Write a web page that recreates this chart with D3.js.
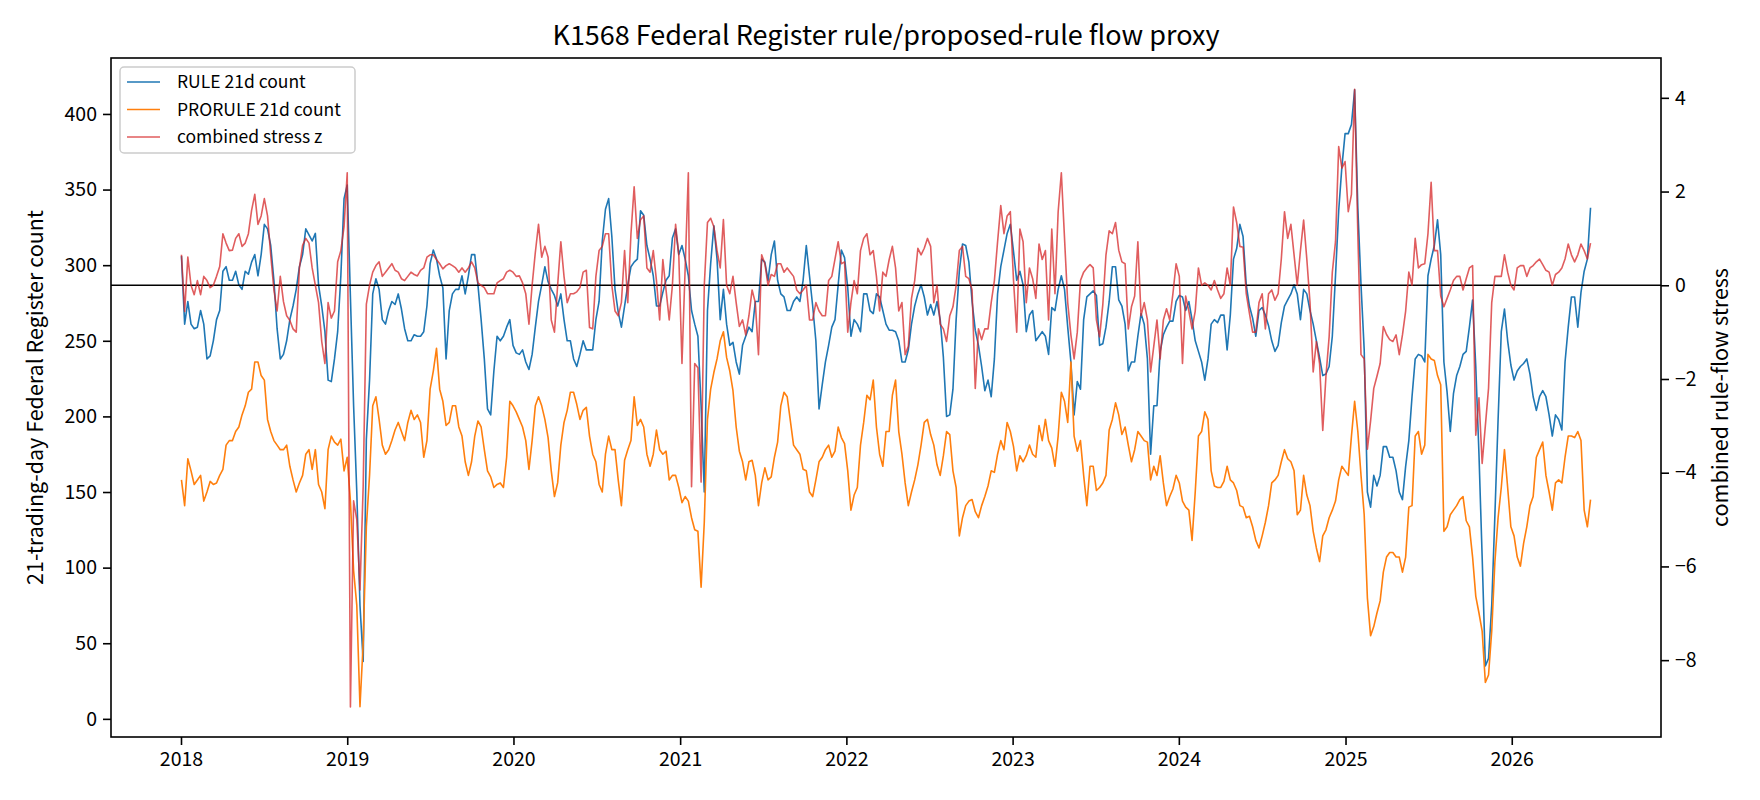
<!DOCTYPE html>
<html><head><meta charset="utf-8">
<script src="https://cdn.jsdelivr.net/npm/d3@7"></script>
<style>
body{margin:0;background:#fff}
text{font-family:"Noto Sans CJK SC","Noto Sans",sans-serif;fill:#000}
</style>
</head><body>
<svg id="chart" width="1760" height="800"></svg>
<script>
// ---- data (weekly samples) ----
const startDate = "2018-01-02";
const stepDays = 7;
const ruleCount = [
306,261,276,261,258,259,270,261,238,240,250,264,270,296,299,290,290,296,287,284,
296,294,302,307,293,307,327,324,313,290,258,238,241,250,264,273,284,299,307,324,
320,316,321,287,273,256,224,223,238,256,293,344,353,279,207,150,75,38,185,224,
281,291,284,264,261,270,276,274,281,271,258,250,250,254,253,253,256,273,301,310,
304,293,285,238,270,281,284,284,293,281,293,307,307,287,264,238,205,201,230,253,
250,253,259,264,247,242,241,244,236,231,241,259,276,287,299,289,284,280,273,281,
264,250,250,238,233,241,250,244,244,244,264,276,316,337,344,319,284,269,259,273,
287,299,302,304,336,333,313,304,293,273,273,282,290,293,318,324,307,313,304,293,
270,261,253,207,150,270,301,326,304,264,284,261,247,249,236,228,247,253,259,256,
276,276,304,302,290,307,316,290,281,279,270,270,276,279,276,290,313,293,273,250,
205,221,236,247,259,264,287,310,305,285,253,264,261,256,281,281,270,268,281,279,
270,261,257,257,256,250,236,236,244,261,273,281,287,279,267,274,267,276,264,239,
200,201,218,264,296,314,313,302,276,257,247,233,217,224,213,238,281,299,310,321,
327,309,290,296,287,256,267,270,250,253,256,253,241,272,270,284,293,284,259,236,
201,223,218,264,279,281,283,280,247,248,259,276,299,299,277,273,261,230,236,236,
253,268,261,238,175,207,207,243,254,259,263,263,276,280,279,270,276,264,250,243,
236,224,238,261,264,262,267,267,244,267,304,311,327,319,287,273,265,253,270,272,
267,260,250,243,247,262,273,277,281,287,281,264,284,281,270,261,250,239,227,228,
233,253,293,336,365,387,387,393,416,338,287,244,150,140,161,154,161,180,180,173,
173,164,150,145,167,184,213,238,241,240,236,293,304,313,330,307,236,216,190,215,
227,233,241,243,259,277,233,175,107,35,40,75,135,198,256,271,250,234,224,230,
233,235,238,228,213,204,213,217,213,201,187,201,198,191,236,259,279,279,259,282,
296,304,338];
const proruleCount = [
158,141,172,164,155,158,161,144,150,157,155,156,161,165,181,184,184,190,193,201,
207,216,218,236,236,227,224,198,190,184,181,178,178,181,167,158,150,156,161,175,
178,165,178,155,150,139,178,187,183,181,185,164,173,144,98,75,8,50,127,161,
207,213,198,181,175,178,184,191,196,190,184,196,204,198,201,196,173,184,218,230,
245,218,210,194,196,207,207,193,187,170,161,170,187,197,193,178,164,160,153,155,
156,153,173,210,207,203,198,193,184,165,184,207,213,207,198,186,164,147,156,181,
196,204,216,216,208,198,204,206,187,175,170,155,150,175,187,178,178,158,141,171,
178,184,213,194,198,193,175,167,175,191,178,175,177,158,161,161,153,143,147,144,
133,125,124,87,130,198,218,229,238,250,256,239,230,217,193,177,170,158,170,171,
161,141,156,166,158,160,173,183,207,216,213,197,181,178,175,165,164,150,147,158,
170,173,178,181,173,177,193,186,182,164,138,148,153,181,196,214,211,224,193,175,
167,190,190,214,224,190,175,156,141,150,158,168,181,196,198,188,181,168,161,174,
190,188,164,153,121,133,141,144,145,137,133,141,147,154,164,163,175,184,178,196,
190,180,164,174,170,174,181,175,173,194,184,198,184,179,167,187,216,210,196,236,
187,177,184,161,141,167,167,151,153,156,161,191,198,209,201,188,193,181,170,178,
190,187,184,183,158,167,161,174,156,141,147,152,161,156,144,140,138,118,150,187,
190,203,198,164,154,153,153,157,167,158,156,151,141,140,133,134,127,118,113,121,
130,141,156,158,161,170,178,172,170,164,135,138,161,148,141,124,113,104,121,125,
133,138,144,158,167,164,161,187,210,190,161,135,80,55,61,70,78,97,107,110,
110,107,107,97,107,140,141,187,190,175,181,241,238,237,227,221,124,127,135,138,
141,145,147,131,127,107,81,70,58,24,29,58,104,133,153,178,153,127,121,107,
101,116,127,141,147,173,178,183,161,150,138,156,158,156,173,187,187,186,190,184,
138,127,145];
const stressZ = [
0.65,-0.56,0.6,0,-0.2,0.1,-0.2,0.19,0.1,-0.05,0,0.19,0.4,1.1,0.9,0.74,0.75,1.0,1.1,0.83,
0.9,1.1,1.6,1.94,1.3,1.48,1.85,1.48,0.65,-0.1,-0.55,0.19,-0.35,-0.65,-0.75,-0.93,-1.0,0.37,0.85,1.0,
0.9,0.37,0,-0.37,-1.2,-1.67,-0.37,-0.7,-0.55,0.5,0.74,1.25,2.4,-9.0,-4.6,-5.0,-6.5,-4.3,-0.4,0,
0.28,0.42,0.5,0.19,0.28,0.37,0.46,0.32,0.28,0.14,0.1,0.19,0.28,0.23,0.2,0.32,0.37,0.6,0.65,0.65,
0.55,0.46,0.35,0.42,0.46,0.42,0.37,0.28,0.37,0.28,0.37,0.5,0.37,0.05,0,-0.05,-0.18,-0.18,-0.18,0.05,
0.1,0.14,0.28,0.32,0.28,0.19,0.2,0.05,-0.18,-0.83,0,0.7,1.3,0.6,0.83,0.6,-0.74,-1.0,0,0.93,
0.19,-0.37,-0.18,-0.18,-0.14,-0.05,0.28,0.32,-0.9,-0.93,0.19,0.74,0.83,1.1,1.1,0,-0.55,-0.65,-0.37,0.74,
-0.37,1.1,2.1,1.0,1.4,1.48,0.37,0.28,0.74,0.1,-0.74,0.55,-0.1,-0.74,0,1.3,0.65,-1.67,0.37,2.4,
-4.3,-1.67,-1.76,-4.2,0,1.34,1.43,1.25,0.74,0.37,1.4,0,-0.18,0.19,-0.37,-0.88,-0.74,-1.06,-0.65,-0.1,
-0.37,-1.48,0.65,0.46,0,0.23,0.19,0.46,0.46,0.28,0.37,0.28,0.19,-0.1,-0.18,-0.1,0,-0.74,-0.74,-0.37,
-0.55,-0.65,-0.65,0.1,0.19,0.56,0.93,0.46,0.5,-1.0,-0.37,0.1,-0.18,0.74,1.0,1.1,0.65,0.74,0.19,-0.55,
0.28,0.19,0.55,0.83,0.37,-0.55,-0.37,-1.48,-1.3,-0.28,0.1,0.79,0.65,0.79,1.0,0.83,-0.37,0,-0.83,-0.93,
-1.2,-0.65,-0.46,0,0.74,0.83,0.19,0.14,-0.1,-2.2,-0.93,-1.16,-0.93,-0.93,-0.37,0.1,0.93,1.7,1.1,1.48,
1.57,0.1,-1.0,1.2,0.93,-0.37,0.37,0.14,-0.28,0.88,0.55,0.74,-0.74,1.2,-0.18,1.57,2.4,1.0,-0.37,-1.06,
-1.57,-1.0,0.1,0.28,0.37,0.44,0.37,-0.74,-1.1,-0.42,0.65,1.16,1.1,1.34,0.75,0.5,0.46,-0.93,-0.46,-0.23,
0.93,-0.65,-0.37,-0.74,-1.85,-1.3,-0.74,-1.57,-0.74,-0.5,-0.74,-0.18,0.46,0.19,-1.67,-0.23,-0.55,-0.93,-0.55,0.37,
0,0.05,0,-0.1,0.1,-0.1,-0.28,-0.18,0.37,0,1.67,1.34,0.83,0.81,-0.18,-0.6,-1.0,-1.0,-0.37,-0.18,
-0.93,-0.18,-0.1,-0.32,-0.18,0.56,1.57,1.0,1.3,0.65,0,0.74,1.39,0.56,-0.37,-1.85,-1.2,-1.67,-3.1,-1.94,
-1.1,0.28,0.93,2.96,2.5,2.64,1.57,1.94,4.18,1.1,-1.48,-1.57,-3.5,-2.9,-2.2,-1.94,-1.67,-0.88,-1.05,-1.16,
-1.2,-1.06,-1.48,-1.06,-0.55,0.28,0,1.0,0.37,0.44,0.46,1.1,2.2,0.74,0.74,-0.23,-0.46,-0.28,-0.1,0.1,
0.19,0.19,-0.1,0.14,0.37,0.42,-3.2,-2.4,-3.8,-3.0,-2.2,-0.37,0.19,0.19,0.19,0.65,0.28,0,-0.1,0.37,
0.42,0.42,0.19,0.37,0.42,0.5,0.56,0.44,0.32,0.28,0,0.23,0.28,0.37,0.56,0.88,0.65,0.5,0.65,0.88,
0.74,0.56,0.9];
const leftTicks = [0,50,100,150,200,250,300,350,400];
const rightTicks = [-8,-6,-4,-2,0,2,4];
const yearTicks = [2018,2019,2020,2021,2022,2023,2024,2025,2026];
const seriesNames = ["RULE 21d count","PRORULE 21d count","combined stress z"];
const titleText = "K1568 Federal Register rule/proposed-rule flow proxy";
const leftLabel = "21-trading-day Federal Register count";
const rightLabel = "combined rule-flow stress";

// ---- layout ----
const L = 111, R = 1661, T = 58, B = 737;
const colors = ["#1f77b4", "#ff7f0e", "#d62728"];
const FONT = '"Noto Sans CJK SC","Noto Sans",sans-serif';

const svg = d3.select("#chart");
const t0 = d3.utcParse("%Y-%m-%d")(startDate);
const dates = ruleCount.map((_, i) => d3.utcDay.offset(t0, i * stepDays));

const ext = d3.extent(dates);
const pad = (ext[1] - ext[0]) * 0.05;
const x = d3.scaleUtc().domain([new Date(+ext[0] - pad), new Date(+ext[1] + pad)]).range([L, R]);
const yL = d3.scaleLinear().domain([-12, 437]).range([B, T]);
const yR = d3.scaleLinear().domain([-9.64, 4.85]).range([B, T]);

svg.append("clipPath").attr("id", "clip").append("rect")
  .attr("x", L).attr("y", T).attr("width", R - L).attr("height", B - T);
const plot = svg.append("g").attr("clip-path", "url(#clip)");
const lineL = d3.line().x((d, i) => x(dates[i])).y(d => yL(d));
const lineR = d3.line().x((d, i) => x(dates[i])).y(d => yR(d));

plot.append("path").attr("d", lineL(ruleCount)).attr("fill", "none")
  .attr("stroke", colors[0]).attr("stroke-width", 1.6).attr("stroke-linejoin", "round");
plot.append("path").attr("d", lineL(proruleCount)).attr("fill", "none")
  .attr("stroke", colors[1]).attr("stroke-width", 1.6).attr("stroke-linejoin", "round");
plot.append("line").attr("x1", L).attr("x2", R).attr("y1", yR(0)).attr("y2", yR(0))
  .attr("stroke", "#000").attr("stroke-width", 1.3);
plot.append("path").attr("d", lineR(stressZ)).attr("fill", "none")
  .attr("stroke", colors[2]).attr("stroke-opacity", 0.75).attr("stroke-width", 1.6).attr("stroke-linejoin", "round");

// axes
const fs = 19.5;
const axL = svg.append("g").attr("transform", `translate(${L},0)`)
  .call(d3.axisLeft(yL).tickValues(leftTicks).tickSize(8).tickPadding(6).tickFormat(d3.format("d")));
const axR = svg.append("g").attr("transform", `translate(${R},0)`)
  .call(d3.axisRight(yR).tickValues(rightTicks).tickSize(8).tickPadding(6).tickFormat(d3.format("d")));
const axB = svg.append("g").attr("transform", `translate(0,${B})`)
  .call(d3.axisBottom(x).tickValues(yearTicks.map(y => new Date(Date.UTC(y, 0, 1)))).tickSize(8).tickPadding(7)
    .tickFormat(d3.utcFormat("%Y")));
[axL, axR, axB].forEach(a => {
  a.select(".domain").remove();
  a.selectAll(".tick line").attr("stroke", "#000").attr("stroke-width", 1.6);
  a.selectAll(".tick text").attr("font-size", fs).attr("font-family", FONT).attr("fill", "#000");
});

svg.append("rect").attr("x", L).attr("y", T).attr("width", R - L).attr("height", B - T)
  .attr("fill", "none").attr("stroke", "#000").attr("stroke-width", 1.6);

// title & labels
svg.append("text").attr("x", (L + R) / 2).attr("y", 45).attr("text-anchor", "middle")
  .attr("font-size", 27).text(titleText);
svg.append("text").attr("transform", `translate(43,${(T + B) / 2}) rotate(-90)`)
  .attr("text-anchor", "middle").attr("font-size", 21.5).text(leftLabel);
svg.append("text").attr("transform", `translate(1728,${(T + B) / 2}) rotate(-90)`)
  .attr("text-anchor", "middle").attr("font-size", 21.5).text(rightLabel);

// legend
const lg = svg.append("g");
lg.append("rect").attr("x", 120).attr("y", 67).attr("width", 235).attr("height", 86)
  .attr("rx", 4).attr("fill", "#fff").attr("fill-opacity", 0.8).attr("stroke", "#ccc").attr("stroke-width", 1.5);
seriesNames.forEach((n, i) => {
  const yy = 82 + i * 27.5;
  lg.append("line").attr("x1", 127).attr("x2", 160).attr("y1", yy).attr("y2", yy)
    .attr("stroke", colors[i]).attr("stroke-width", 1.6).attr("stroke-opacity", i === 2 ? 0.75 : 1);
  lg.append("text").attr("x", 177).attr("y", yy).attr("dy", "0.35em").attr("font-size", 17.5).text(n);
});
</script>
</body></html>
